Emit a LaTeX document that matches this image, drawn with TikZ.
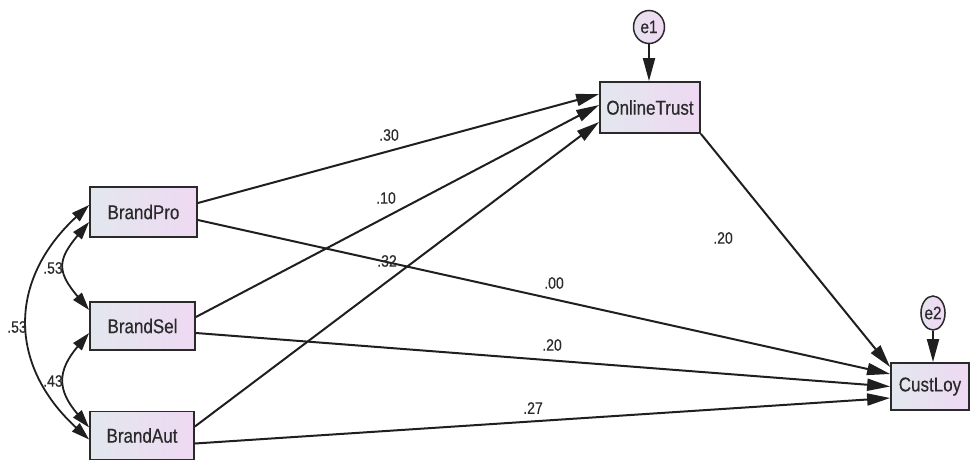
\documentclass[tikz,border=0pt]{standalone}
\usepackage{fontspec}
\setmainfont{Liberation Sans}
\newfontfamily\nodefont[FakeStretch=0.85,FakeBold=0.4]{Liberation Sans}
\usetikzlibrary{arrows.meta,shapes.geometric}
\definecolor{boxleft}{HTML}{E2E7EE}
\definecolor{boxright}{HTML}{EFD9F2}
\definecolor{edgecol}{HTML}{2A2A2A}
\definecolor{txt}{HTML}{2A2A2A}
\begin{document}
\begin{tikzpicture}[x=1pt,y=-1pt,
  var/.style={rectangle, draw=edgecol, line width=1.8pt, left color=boxleft, right color=boxright,
    inner sep=0pt, font=\nodefont\fontsize{20}{22}\selectfont, text=txt},
  err/.style={ellipse, draw=edgecol, line width=1.5pt, left color=boxleft!50!boxright, right color=boxright,
    inner sep=0pt, font=\nodefont\fontsize{18}{20}\selectfont, text=txt},
  reg/.style={line width=2pt, draw=black!88, -{Triangle[length=23pt,width=12pt]}},
  cov/.style={line width=1.8pt, draw=black!88, {Triangle[length=18pt,width=11pt]}-{Triangle[length=18pt,width=11pt]}},
  lab/.style={font=\nodefont\fontsize{16.5}{18}\selectfont, text=txt, inner sep=0pt}
]
\useasboundingbox (0,0) rectangle (971,461);

\node[var, minimum width=107pt, minimum height=50pt] (BP) at (143.5,212) {BrandPro};
\node[var, minimum width=105pt, minimum height=48pt] (BS) at (142.5,326) {BrandSel};
\node[var, minimum width=104pt, minimum height=48pt] (BA) at (142,435.5) {BrandAut};
\node[var, minimum width=100pt, minimum height=51pt] (OT) at (650,107.5) {OnlineTrust};
\node[var, minimum width=78pt, minimum height=47pt] (CL) at (930,386.5) {CustLoy};
\node[err, minimum width=31pt, minimum height=33pt] (E1) at (649,27) {e1};
\node[err, minimum width=23pt, minimum height=34pt] (E2) at (933,313) {e2};

% error terms
\draw[reg] (E1.south) -- (E1.south |- OT.north);
\draw[reg] (E2.south) -- (E2.south |- CL.north);

% regressions
\draw[reg] ([yshift=9pt]BP.east) -- ([yshift=13.5pt]OT.west);
\draw[reg] ([yshift=9pt]BS.east) -- ([yshift=2.5pt]OT.west);
\draw[reg] ([yshift=9pt]BA.east) -- ([yshift=-14.5pt]OT.west);
\draw[reg] ([yshift=-8pt]BP.east) -- ([yshift=12.5pt]CL.west);
\draw[reg] ([yshift=-7pt]BS.east) -- (CL.west);
\draw[reg] ([yshift=-8pt]BA.east) -- ([yshift=-11.5pt]CL.west);
\draw[reg] (OT.south east) -- ([yshift=19.5pt]CL.west);

% covariances
\draw[cov] ([yshift=7pt]BP.west) .. controls (8,280) and (8,365) .. ([yshift=-4pt]BA.west);
\draw[cov] ([yshift=-10pt]BP.west) .. controls (57,260) and (57,272) .. ([yshift=16pt]BS.west);
\draw[cov] ([yshift=-7pt]BS.west) .. controls (57,371) and (57,390) .. ([yshift=8pt]BA.west);

% labels
\node[lab] (l1) at (389,135) {.30};
\node[lab] (l2) at (386,198) {.10};
\node[lab] (l3) at (387,261) {.32};
\node[lab] (l4) at (554,283) {.00};
\node[lab] (l5) at (552,345) {.20};
\node[lab] (l6) at (533,408) {.27};
\node[lab] (l7) at (723,238) {.20};
\node[lab] (l8) at (53,268) {.53};
\node[lab] (l9) at (17,327) {.53};
\node[lab] (l10) at (53,381) {.43};
\end{tikzpicture}
\end{document}
